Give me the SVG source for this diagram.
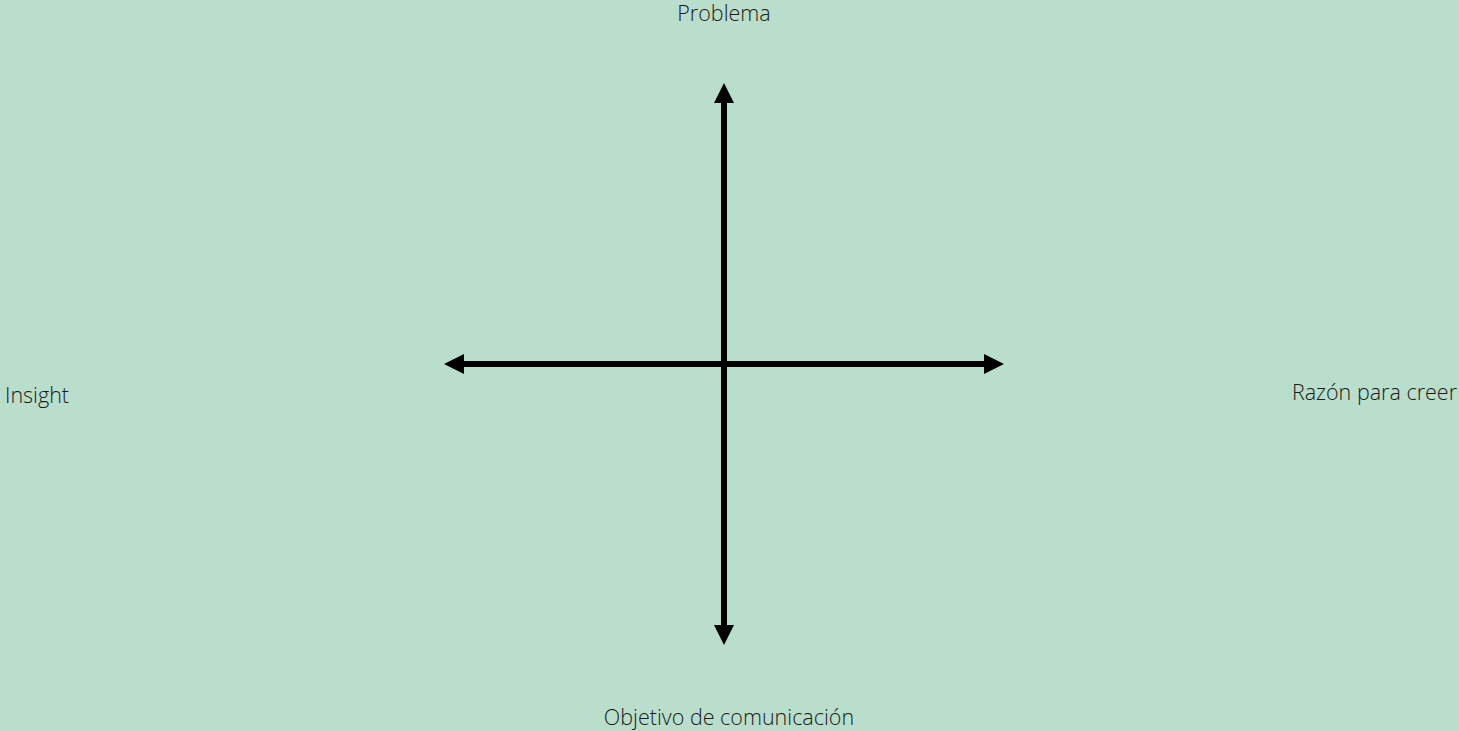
<svg xmlns="http://www.w3.org/2000/svg" width="1459" height="731" viewBox="0 0 1459 731">
  <style>
    .lbl { font-family: "Open Sans", "Liberation Sans", sans-serif; font-size: 21.5px; font-weight: 300; fill: #1a1a1a; }
    .axis { stroke: #000000; stroke-width: 6; fill: none; marker-start: url(#head); marker-end: url(#head); }
  </style>
  <defs>
    <marker id="head" markerUnits="userSpaceOnUse" markerWidth="22" markerHeight="22" viewBox="0 0 22 22" refX="1" refY="10" orient="auto-start-reverse" overflow="visible">
      <path d="M0,0 L20,10 L0,20 Z" fill="#000000"/>
    </marker>
  </defs>
  <rect width="1459" height="731" fill="#B9DECB"/>
  <g id="connectors">
    <line class="axis" x1="724" y1="102" x2="724" y2="626"/>
    <line class="axis" x1="463" y1="364" x2="985" y2="364"/>
  </g>
  <g id="problema"><text class="lbl" x="724" y="21" text-anchor="middle">Problema</text></g>
  <g id="insight"><text class="lbl" x="5" y="403">Insight</text></g>
  <g id="razon"><text class="lbl" x="1457" y="400" text-anchor="end">Razón para creer</text></g>
  <g id="objetivo"><text class="lbl" x="729" y="725" text-anchor="middle">Objetivo de comunicación</text></g>
</svg>
